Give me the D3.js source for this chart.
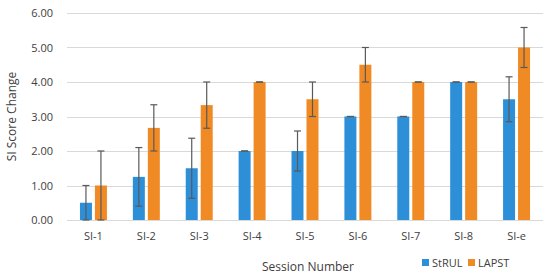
<!DOCTYPE html>
<html>
<head>
<meta charset="utf-8">
<script src="https://d3js.org/d3.v7.min.js"></script>
<style>
  body { margin: 0; background: #fff; }
  text { font-family: "Open Sans", "Liberation Sans", sans-serif; fill: #404040; }
</style>
</head>
<body>
<div id="chart"></div>
<script>
var sessions = ["SI-1", "SI-2", "SI-3", "SI-4", "SI-5", "SI-6", "SI-7", "SI-8", "SI-e"];
var strul = [0.5, 1.25, 1.5, 2.0, 2.0, 3.0, 3.0, 4.0, 3.5];
var strulErr = [0.5, 0.85, 0.87, 0, 0.58, 0, 0, 0, 0.65];
var lapst = [1.0, 2.67, 3.33, 4.0, 3.5, 4.5, 4.0, 4.0, 5.0];
var lapstErr = [1.0, 0.67, 0.67, 0, 0.5, 0.5, 0, 0, 0.58];
var yTicks = [0, 1, 2, 3, 4, 5, 6];
var seriesNames = ["StRUL", "LAPST"];
var colors = ["#2E8FD9", "#F08A24"];

var width = 550, height = 280;
var margin = {top: 13, right: 7, bottom: 60, left: 67};

var svg = d3.select("#chart").append("svg")
  .attr("width", width)
  .attr("height", height);

var x = d3.scaleBand()
  .domain(sessions)
  .range([margin.left, width - margin.right])
  .paddingInner(0.49)
  .paddingOuter(0.245);

var y = d3.scaleLinear()
  .domain([0, 6])
  .range([height - margin.bottom, margin.top]);

var x1 = d3.scaleBand()
  .domain([0, 1])
  .range([0, x.bandwidth()])
  .paddingInner(0.2);

// gridlines
svg.append("g")
  .selectAll("line")
  .data(yTicks)
  .enter().append("line")
  .attr("x1", margin.left)
  .attr("x2", width - margin.right)
  .attr("y1", function(d) { return Math.round(y(d)) + 0.5; })
  .attr("y2", function(d) { return Math.round(y(d)) + 0.5; })
  .attr("stroke", "#d9d9d9")
  .attr("stroke-width", 1);

// y axis labels
var yAxis = svg.append("g")
  .attr("transform", "translate(" + (margin.left - 11) + ",0)")
  .call(d3.axisLeft(y).tickValues(yTicks).tickFormat(d3.format(".2f")).tickSize(0));
yAxis.select(".domain").remove();
yAxis.selectAll("text")
  .style("font-size", "11px")
  .attr("fill", "#404040");

// x axis labels
var xAxis = svg.append("g")
  .attr("transform", "translate(0," + (height - margin.bottom + 9) + ")")
  .call(d3.axisBottom(x).tickSize(0));
xAxis.select(".domain").remove();
xAxis.selectAll("text")
  .style("font-size", "11px")
  .attr("fill", "#404040");

var series = [
  {name: seriesNames[0], values: strul, errs: strulErr},
  {name: seriesNames[1], values: lapst, errs: lapstErr}
];

series.forEach(function(s, si) {
  var g = svg.append("g");
  g.selectAll("rect")
    .data(s.values)
    .enter().append("rect")
    .attr("x", function(d, i) { return x(sessions[i]) + x1(si); })
    .attr("y", function(d) { return y(d); })
    .attr("width", x1.bandwidth())
    .attr("height", function(d) { return y(0) - y(d); })
    .attr("fill", colors[si]);

  var eg = g.selectAll(".err")
    .data(s.values)
    .enter().append("g")
    .attr("class", "err")
    .attr("stroke", "#595959")
    .attr("stroke-width", 1.2);
  eg.append("line")
    .attr("x1", function(d, i) { return x(sessions[i]) + x1(si) + x1.bandwidth() / 2; })
    .attr("x2", function(d, i) { return x(sessions[i]) + x1(si) + x1.bandwidth() / 2; })
    .attr("y1", function(d, i) { return y(d + s.errs[i]); })
    .attr("y2", function(d, i) { return y(d - s.errs[i]); });
  eg.append("line")
    .attr("x1", function(d, i) { return x(sessions[i]) + x1(si) + x1.bandwidth() / 2 - 3.5; })
    .attr("x2", function(d, i) { return x(sessions[i]) + x1(si) + x1.bandwidth() / 2 + 3.5; })
    .attr("y1", function(d, i) { return y(d + s.errs[i]); })
    .attr("y2", function(d, i) { return y(d + s.errs[i]); });
  eg.append("line")
    .attr("x1", function(d, i) { return x(sessions[i]) + x1(si) + x1.bandwidth() / 2 - 3.5; })
    .attr("x2", function(d, i) { return x(sessions[i]) + x1(si) + x1.bandwidth() / 2 + 3.5; })
    .attr("y1", function(d, i) { return y(d - s.errs[i]); })
    .attr("y2", function(d, i) { return y(d - s.errs[i]); });
});

// axis titles
svg.append("text")
  .attr("transform", "translate(16," + ((margin.top + height - margin.bottom) / 2) + ") rotate(-90)")
  .attr("text-anchor", "middle")
  .style("font-size", "12px")
  .text("SI Score Change");

svg.append("text")
  .attr("x", 308)
  .attr("y", 271)
  .attr("text-anchor", "middle")
  .style("font-size", "12px")
  .text("Session Number");

// legend
var legend = svg.append("g").attr("transform", "translate(422,263)");
seriesNames.forEach(function(n, i) {
  var lg = legend.append("g").attr("transform", "translate(" + (i * 46) + ",0)");
  lg.append("rect")
    .attr("x", 0).attr("y", -4)
    .attr("width", 7).attr("height", 7)
    .attr("fill", colors[i]);
  lg.append("text")
    .attr("x", 10).attr("y", 4)
    .style("font-size", "11px")
    .text(n);
});
</script>
</body>
</html>
